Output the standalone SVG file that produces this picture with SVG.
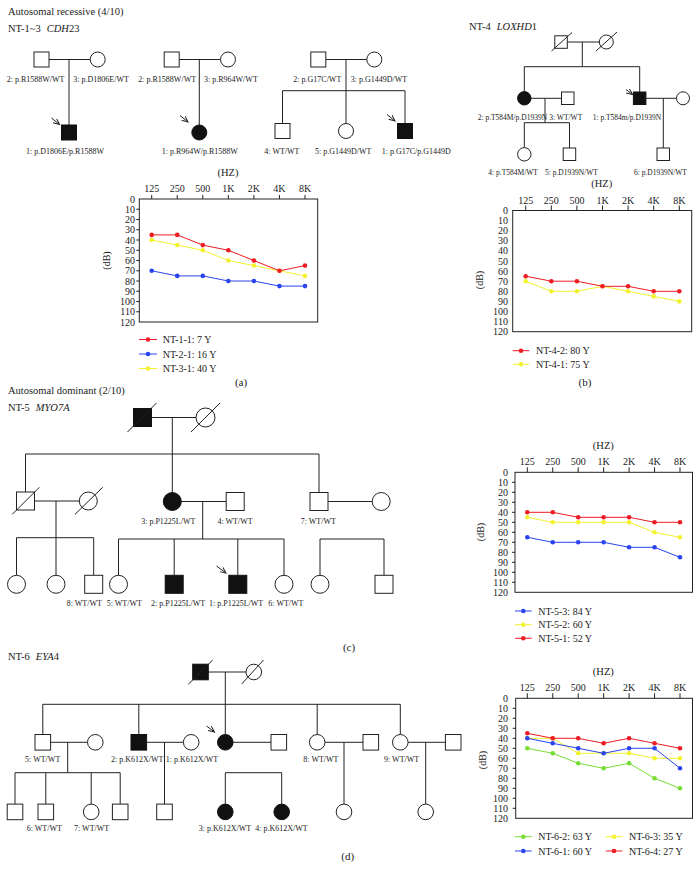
<svg xmlns="http://www.w3.org/2000/svg" width="700" height="872" viewBox="0 0 700 872">
<style>
text{font-family:"Liberation Serif","Times New Roman",serif;fill:#222}
.lb{font-size:8px}
.lb2{font-size:7.5px}
.h{font-size:10.5px}
.ax{font-size:10px}
.cap{font-size:11px}
.ln{stroke:#222;stroke-width:1;fill:none}
.o{fill:#fff;stroke:#222;stroke-width:1}
.f{fill:#111;stroke:#111;stroke-width:1}
.box{fill:#fff;stroke:#222;stroke-width:1}
.tk{stroke:#222;stroke-width:1}
.r{stroke:#ee1c24;fill:none;stroke-width:1}
.b{stroke:#2a44ee;fill:none;stroke-width:1}
.y{stroke:#f2f230;fill:none;stroke-width:1}
.g{stroke:#77dd33;fill:none;stroke-width:1}
.rd{fill:#ee1c24}
.bd{fill:#2a44ee}
.yd{fill:#f2f230}
.gd{fill:#77dd33}
.e{text-anchor:end}
.m{text-anchor:middle}
</style>
<defs>
<marker id="arr" markerWidth="8" markerHeight="8" refX="6" refY="3" orient="auto" markerUnits="userSpaceOnUse">
<path d="M0,0.3 L6,3 L0,5.7" fill="none" stroke="#222" stroke-width="1"/>
</marker>
</defs>

<!-- Headers -->
<text class="h" x="8" y="15">Autosomal recessive (4/10)</text>
<text class="h" x="8" y="32">NT-1~3<tspan dx="6" font-style="italic">CDH</tspan>23</text>
<text class="h" x="469" y="30">NT-4<tspan dx="6" font-style="italic">LOXHD</tspan>1</text>
<text class="h" x="8" y="393.5">Autosomal dominant (2/10)</text>
<text class="h" x="8" y="410.5">NT-5<tspan dx="6" font-style="italic">MYO7A</tspan></text>
<text class="h" x="8" y="660">NT-6<tspan dx="6" font-style="italic">EYA</tspan>4</text>

<!-- connectors -->
<g id="connectors">
<path class="ln" d="M49,59.5H90.2M69,59.5V125"/>
<path class="ln" d="M179.2,59.5H220.5M199.3,59.5V125"/>
<path class="ln" d="M325.8,59.5H366.8M346,59.5V123.5M282.5,90.7H405M282.5,90.7V123.5M405,90.7V123.5"/>
<path class="ln" d="M567.3,42H599.3M582.3,42V66.7M524.3,66.7H639.7M524.3,66.7V91.6M639.7,66.7V92"/>
<path class="ln" d="M531,98.3H561.5M545,98.3V122.7M524.3,122.7H569.5M524.3,122.7V147.6M569.5,122.7V148"/>
<path class="ln" d="M646,98.3H676.5M663.3,98.3V148"/>
<path class="ln" d="M151.5,417.5H196M172.3,417.5V454M25.5,454H319M25.5,454V492M172.3,454V492.5M319,454V492.5"/>
<path class="ln" d="M34.5,501H79.3M56,501V537.7M16.5,537.7H93.7M16.5,537.7V575.3M56,537.7V575.3M93.7,537.7V575.3"/>
<path class="ln" d="M181.3,501.5H226.2M202.7,501.5V539M118.5,539H284M118.5,539V575.3M174.2,539V575.3M237.8,539V575.3M284,539V575.3"/>
<path class="ln" d="M328,501.5H372.2M320,539H384M320,539V575.3M384,539V575.3"/>
<path class="ln" d="M208.3,672H246M225.3,672V734.5M42.8,704.3H400.3M42.8,704.3V734.5M138.8,704.3V734.5M317.2,704.3V734.5M400.3,704.3V734.5"/>
<path class="ln" d="M50.6,742.3H87.5M67.7,742.3V772.7M15,772.7H120.2M15,772.7V804.1M45.8,772.7V804.1M91.2,772.7V804.1M120.2,772.7V804.1"/>
<path class="ln" d="M146.6,742.3H183.4M164.5,742.3V804.1"/>
<path class="ln" d="M233.1,742.3H271M225.3,772.7H281.7M225.3,772.7V804.1M281.7,772.7V804.1"/>
<path class="ln" d="M325,742.3H363M344,742.3V804.1M408.1,742.3H445.4M425.7,742.3V804.1"/>
<path class="ln" d="M51.5,118L59.5,124.5" marker-end="url(#arr)"/>
<path class="ln" d="M180,115.5L188,122" marker-end="url(#arr)"/>
<path class="ln" d="M387,114.5L395,121" marker-end="url(#arr)"/>
<path class="ln" d="M626,89.5L632.5,94.5" marker-end="url(#arr)"/>
<path class="ln" d="M216.5,566L226,573" marker-end="url(#arr)"/>
<path class="ln" d="M206.5,726L214.5,732" marker-end="url(#arr)"/>
</g>

<!-- NT-1 pedigree -->
<g id="nt1-2"><rect class="o" x="34" y="52" width="15" height="15"/><text class="lb" x="6.7" y="82.3">2: p.R1588W/WT</text></g>
<g id="nt1-3"><circle class="o" cx="97.7" cy="59.5" r="7.5"/><text class="lb" x="73.3" y="82.3">3: p.D1806E/WT</text></g>
<g id="nt1-1"><rect class="f" x="61.5" y="125" width="15" height="15"/><text class="lb" x="26" y="154.3">1: p.D1806E/p.R1588W</text></g>
<!-- NT-2 pedigree -->
<g id="nt2-2"><rect class="o" x="164.2" y="52" width="15" height="15"/><text class="lb" x="138.3" y="82.3">2: p.R1588W/WT</text></g>
<g id="nt2-3"><circle class="o" cx="228" cy="59.5" r="7.5"/><text class="lb" x="204" y="82.3">3: p.R964W/WT</text></g>
<g id="nt2-1"><circle class="f" cx="199.3" cy="132.5" r="7.5"/><text class="lb" x="161.7" y="154.3">1: p.R964W/p.R1588W</text></g>
<!-- NT-3 pedigree -->
<g id="nt3-2"><rect class="o" x="310.8" y="52" width="15" height="15"/><text class="lb" x="293.3" y="82.3">2: p.G17C/WT</text></g>
<g id="nt3-3"><circle class="o" cx="374.3" cy="59.5" r="7.5"/><text class="lb" x="350.7" y="82.3">3: p.G1449D/WT</text></g>
<g id="nt3-4"><rect class="o" x="275" y="123.5" width="15" height="15"/><text class="lb" x="264.3" y="154.3">4: WT/WT</text></g>
<g id="nt3-5"><circle class="o" cx="346" cy="131" r="7.5"/><text class="lb" x="315" y="154.3">5: p.G1449D/WT</text></g>
<g id="nt3-1"><rect class="f" x="397.5" y="123.5" width="15" height="15"/><text class="lb" x="381.7" y="154.3">1: p.G17C/p.G1449D</text></g>

<!-- NT-4 pedigree -->
<g id="nt4-gf"><rect class="o" x="554.8" y="35.8" width="12.5" height="12.5"/><path class="ln" d="M551.5,51L572,32.5"/></g>
<g id="nt4-gm"><circle class="o" cx="606.3" cy="42" r="7"/><path class="ln" d="M596,51L617,32"/></g>
<g id="nt4-2"><circle class="f" cx="524.3" cy="98.3" r="6.7"/><text class="lb2" x="477.7" y="119.5">2: p.T584M/p.D1939N</text></g>
<g id="nt4-3"><rect class="o" x="561.5" y="92" width="12.5" height="12.5"/><text class="lb2" x="549.3" y="119.5">3: WT/WT</text></g>
<g id="nt4-1"><rect class="f" x="633.4" y="92" width="12.5" height="12.5"/><text class="lb2" x="592.7" y="119.5">1: p.T584m/p.D1939N</text></g>
<g id="nt4-sp"><circle class="o" cx="683" cy="98.3" r="6.5"/></g>
<g id="nt4-4"><circle class="o" cx="524.3" cy="154.3" r="6.7"/><text class="lb2" x="488.3" y="174.5">4: p.T584M/WT</text></g>
<g id="nt4-5"><rect class="o" x="563.2" y="148" width="12.5" height="12.5"/><text class="lb2" x="545" y="174.5">5: p.D1939N/WT</text></g>
<g id="nt4-6"><rect class="o" x="657" y="148" width="12.5" height="12.5"/><text class="lb2" x="634" y="174.5">6: p.D1939N/WT</text></g>

<!-- Chart (a) -->
<g id="chart-a">
<text class="h m" x="228" y="175.5">(HZ)</text>
<g class="ax m">
<text x="151.7" y="192">125</text><text x="177.25" y="192">250</text><text x="202.8" y="192">500</text><text x="228.35" y="192">1K</text><text x="253.9" y="192">2K</text><text x="279.45" y="192">4K</text><text x="305" y="192">8K</text>
</g>
<rect class="box" x="139.3" y="199" width="178.4" height="123"/>
<path class="tk" d="M151.7,195V199M177.25,195V199M202.8,195V199M228.35,195V199M253.9,195V199M279.45,195V199M305,195V199"/>
<path class="tk" d="M136.3,209.25H139.3M136.3,219.5H139.3M136.3,229.75H139.3M136.3,240H139.3M136.3,250.25H139.3M136.3,260.5H139.3M136.3,270.75H139.3M136.3,281H139.3M136.3,291.25H139.3M136.3,301.5H139.3M136.3,311.75H139.3"/>
<g class="ax e">
<text x="135" y="202.5">0</text><text x="135" y="212.75">10</text><text x="135" y="223">20</text><text x="135" y="233.25">30</text><text x="135" y="243.5">40</text><text x="135" y="253.75">50</text><text x="135" y="264">60</text><text x="135" y="274.25">70</text><text x="135" y="284.5">80</text><text x="135" y="294.75">90</text><text x="135" y="305">100</text><text x="135" y="315.25">110</text><text x="135" y="325.5">120</text>
</g>
<text class="ax m" transform="translate(109.5,260.5) rotate(-90)">(dB)</text>
<polyline class="b" points="151.7,270.8 177.25,275.9 202.8,275.9 228.35,281 253.9,281 279.45,286.1 305,286.1"/>
<g class="bd"><circle cx="151.7" cy="270.8" r="2.3"/><circle cx="177.25" cy="275.9" r="2.3"/><circle cx="202.8" cy="275.9" r="2.3"/><circle cx="228.35" cy="281" r="2.3"/><circle cx="253.9" cy="281" r="2.3"/><circle cx="279.45" cy="286.1" r="2.3"/><circle cx="305" cy="286.1" r="2.3"/></g>
<polyline class="y" points="151.7,240 177.25,245.1 202.8,250.3 228.35,260.5 253.9,265.6 279.45,270.8 305,275.9"/>
<g class="yd"><circle cx="151.7" cy="240" r="2.3"/><circle cx="177.25" cy="245.1" r="2.3"/><circle cx="202.8" cy="250.3" r="2.3"/><circle cx="228.35" cy="260.5" r="2.3"/><circle cx="253.9" cy="265.6" r="2.3"/><circle cx="279.45" cy="270.8" r="2.3"/><circle cx="305" cy="275.9" r="2.3"/></g>
<polyline class="r" points="151.7,234.9 177.25,234.9 202.8,245.1 228.35,250.3 253.9,260.5 279.45,270.8 305,265.6"/>
<g class="rd"><circle cx="151.7" cy="234.9" r="2.3"/><circle cx="177.25" cy="234.9" r="2.3"/><circle cx="202.8" cy="245.1" r="2.3"/><circle cx="228.35" cy="250.3" r="2.3"/><circle cx="253.9" cy="260.5" r="2.3"/><circle cx="279.45" cy="270.8" r="2.3"/><circle cx="305" cy="265.6" r="2.3"/></g>
<path class="r" d="M139,339.5H157"/><circle class="rd" cx="148" cy="339.5" r="2.3"/><text class="ax" x="162.7" y="343">NT-1-1: 7 Y</text>
<path class="b" d="M139,354H157"/><circle class="bd" cx="148" cy="354" r="2.3"/><text class="ax" x="162.7" y="357.5">NT-2-1: 16 Y</text>
<path class="y" d="M139,368.5H157"/><circle class="yd" cx="148" cy="368.5" r="2.3"/><text class="ax" x="162.7" y="372">NT-3-1: 40 Y</text>
<text class="cap m" x="241" y="385.5">(a)</text>
</g>

<!-- Chart (b) -->
<g id="chart-b">
<text class="h m" x="601.7" y="186.5">(HZ)</text>
<g class="ax m">
<text x="525.7" y="203.5">125</text><text x="551.3" y="203.5">250</text><text x="576.9" y="203.5">500</text><text x="602.5" y="203.5">1K</text><text x="628.1" y="203.5">2K</text><text x="653.7" y="203.5">4K</text><text x="679.3" y="203.5">8K</text>
</g>
<rect class="box" x="512.7" y="210.5" width="179" height="121.2"/>
<path class="tk" d="M525.7,205.5V210.5M551.3,205.5V210.5M576.9,205.5V210.5M602.5,205.5V210.5M628.1,205.5V210.5M653.7,205.5V210.5M679.3,205.5V210.5"/>
<g class="ax e">
<text x="508" y="214">0</text><text x="508" y="224.1">10</text><text x="508" y="234.2">20</text><text x="508" y="244.3">30</text><text x="508" y="254.4">40</text><text x="508" y="264.5">50</text><text x="508" y="274.6">60</text><text x="508" y="284.7">70</text><text x="508" y="294.8">80</text><text x="508" y="304.9">90</text><text x="508" y="315">100</text><text x="508" y="325.1">110</text><text x="508" y="335.2">120</text>
</g>
<text class="ax m" transform="translate(482.5,280) rotate(-90)">(dB)</text>
<polyline class="y" points="525.7,281.2 551.3,291.3 576.9,291.3 602.5,286.3 628.1,291.3 653.7,296.4 679.3,301.4"/>
<g class="yd"><circle cx="525.7" cy="281.2" r="2.3"/><circle cx="551.3" cy="291.3" r="2.3"/><circle cx="576.9" cy="291.3" r="2.3"/><circle cx="602.5" cy="286.3" r="2.3"/><circle cx="628.1" cy="291.3" r="2.3"/><circle cx="653.7" cy="296.4" r="2.3"/><circle cx="679.3" cy="301.4" r="2.3"/></g>
<polyline class="r" points="525.7,276.2 551.3,281.2 576.9,281.2 602.5,286.3 628.1,286.3 653.7,291.3 679.3,291.3"/>
<g class="rd"><circle cx="525.7" cy="276.2" r="2.3"/><circle cx="551.3" cy="281.2" r="2.3"/><circle cx="576.9" cy="281.2" r="2.3"/><circle cx="602.5" cy="286.3" r="2.3"/><circle cx="628.1" cy="286.3" r="2.3"/><circle cx="653.7" cy="291.3" r="2.3"/><circle cx="679.3" cy="291.3" r="2.3"/></g>
<path class="r" d="M512.7,350.7H529.3"/><circle class="rd" cx="521" cy="350.7" r="2.3"/><text class="ax" x="536" y="354.2">NT-4-2: 80 Y</text>
<path class="y" d="M512.7,364.3H529.3"/><circle class="yd" cx="521" cy="364.3" r="2.3"/><text class="ax" x="536" y="367.8">NT-4-1: 75 Y</text>
<text class="cap m" x="585" y="385.5">(b)</text>
</g>

<!-- NT-5 pedigree -->
<g id="nt5-gf"><rect class="f" x="133.5" y="408.5" width="18" height="18"/><path class="ln" d="M127.5,432L156.5,403"/></g>
<g id="nt5-gm"><circle class="o" cx="205.5" cy="417.5" r="9.5"/><path class="ln" d="M191,432L220,403"/></g>
<g id="nt5-a"><rect class="o" x="16.5" y="492" width="18" height="18"/><path class="ln" d="M12.3,514.3L39.3,487.3"/></g>
<g id="nt5-b"><circle class="o" cx="88.3" cy="501" r="9"/><path class="ln" d="M75,514.3L102.7,487.3"/></g>
<g id="nt5-3"><circle class="f" cx="172.3" cy="501.5" r="9"/><text class="lb m" x="168.3" y="523.8">3: p.P1225L/WT</text></g>
<g id="nt5-4"><rect class="o" x="226.2" y="492.5" width="18" height="18"/><text class="lb m" x="235" y="523.8">4: WT/WT</text></g>
<g id="nt5-7"><rect class="o" x="310" y="492.5" width="18" height="18"/><text class="lb m" x="318.3" y="523.8">7: WT/WT</text></g>
<g id="nt5-7sp"><circle class="o" cx="381.2" cy="501.5" r="9"/></g>
<g id="nt5-c1"><circle class="o" cx="16.5" cy="584.3" r="9"/></g>
<g id="nt5-c2"><circle class="o" cx="56" cy="584.3" r="9"/></g>
<g id="nt5-8"><rect class="o" x="84.7" y="575.3" width="18" height="18"/><text class="lb" x="66.7" y="605.5">8: WT/WT</text></g>
<g id="nt5-5"><circle class="o" cx="118.5" cy="584.3" r="9"/><text class="lb" x="106.7" y="605.5">5: WT/WT</text></g>
<g id="nt5-2"><rect class="f" x="165.2" y="575.3" width="18" height="18"/><text class="lb" x="151" y="605.5">2: p.P1225L/WT</text></g>
<g id="nt5-1"><rect class="f" x="228.8" y="575.3" width="18" height="18"/><text class="lb" x="209" y="605.5">1: p.P1225L/WT</text></g>
<g id="nt5-6"><circle class="o" cx="284" cy="584.3" r="9"/><text class="lb" x="268.3" y="605.5">6: WT/WT</text></g>
<g id="nt5-c7"><circle class="o" cx="320" cy="584.3" r="9"/></g>
<g id="nt5-c8"><rect class="o" x="375" y="575.3" width="18" height="18"/></g>
<text class="cap m" x="349" y="650.5">(c)</text>

<!-- Chart (c) -->
<g id="chart-c">
<text class="h m" x="603.3" y="448.5">(HZ)</text>
<g class="ax m">
<text x="527.3" y="465">125</text><text x="552.75" y="465">250</text><text x="578.2" y="465">500</text><text x="603.65" y="465">1K</text><text x="629.1" y="465">2K</text><text x="654.55" y="465">4K</text><text x="680" y="465">8K</text>
</g>
<rect class="box" x="515" y="472.3" width="177.5" height="120"/>
<path class="tk" d="M527.3,467.3V472.3M552.75,467.3V472.3M578.2,467.3V472.3M603.65,467.3V472.3M629.1,467.3V472.3M654.55,467.3V472.3M680,467.3V472.3"/>
<path class="tk" d="M512,482.3H515M512,492.3H515M512,502.3H515M512,512.3H515M512,522.3H515M512,532.3H515M512,542.3H515M512,552.3H515M512,562.3H515M512,572.3H515M512,582.3H515"/>
<g class="ax e">
<text x="508" y="475.8">0</text><text x="508" y="485.8">10</text><text x="508" y="495.8">20</text><text x="508" y="505.8">30</text><text x="508" y="515.8">40</text><text x="508" y="525.8">50</text><text x="508" y="535.8">60</text><text x="508" y="545.8">70</text><text x="508" y="555.8">80</text><text x="508" y="565.8">90</text><text x="508" y="575.8">100</text><text x="508" y="585.8">110</text><text x="508" y="595.8">120</text>
</g>
<text class="ax m" transform="translate(483.5,532) rotate(-90)">(dB)</text>
<polyline class="b" points="527.3,537.3 552.75,542.3 578.2,542.3 603.65,542.3 629.1,547.3 654.55,547.3 680,557.3"/>
<g class="bd"><circle cx="527.3" cy="537.3" r="2.3"/><circle cx="552.75" cy="542.3" r="2.3"/><circle cx="578.2" cy="542.3" r="2.3"/><circle cx="603.65" cy="542.3" r="2.3"/><circle cx="629.1" cy="547.3" r="2.3"/><circle cx="654.55" cy="547.3" r="2.3"/><circle cx="680" cy="557.3" r="2.3"/></g>
<polyline class="y" points="527.3,517.3 552.75,522.3 578.2,522.3 603.65,522.3 629.1,522.3 654.55,532.3 680,537.3"/>
<g class="yd"><circle cx="527.3" cy="517.3" r="2.3"/><circle cx="552.75" cy="522.3" r="2.3"/><circle cx="578.2" cy="522.3" r="2.3"/><circle cx="603.65" cy="522.3" r="2.3"/><circle cx="629.1" cy="522.3" r="2.3"/><circle cx="654.55" cy="532.3" r="2.3"/><circle cx="680" cy="537.3" r="2.3"/></g>
<polyline class="r" points="527.3,512.3 552.75,512.3 578.2,517.3 603.65,517.3 629.1,517.3 654.55,522.3 680,522.3"/>
<g class="rd"><circle cx="527.3" cy="512.3" r="2.3"/><circle cx="552.75" cy="512.3" r="2.3"/><circle cx="578.2" cy="517.3" r="2.3"/><circle cx="603.65" cy="517.3" r="2.3"/><circle cx="629.1" cy="517.3" r="2.3"/><circle cx="654.55" cy="522.3" r="2.3"/><circle cx="680" cy="522.3" r="2.3"/></g>
<path class="b" d="M515,611H531.7"/><circle class="bd" cx="523.3" cy="611" r="2.3"/><text class="ax" x="538.3" y="614.5">NT-5-3: 84 Y</text>
<path class="y" d="M515,624.7H531.7"/><circle class="yd" cx="523.3" cy="624.7" r="2.3"/><text class="ax" x="538.3" y="628.2">NT-5-2: 60 Y</text>
<path class="r" d="M515,638.3H531.7"/><circle class="rd" cx="523.3" cy="638.3" r="2.3"/><text class="ax" x="538.3" y="641.8">NT-5-1: 52 Y</text>
</g>

<!-- NT-6 pedigree -->
<g id="nt6-gf"><rect class="f" x="192.7" y="664.2" width="15.6" height="15.6"/><path class="ln" d="M188.3,684.3L212.7,660"/></g>
<g id="nt6-gm"><circle class="o" cx="253.8" cy="672" r="7.8"/><path class="ln" d="M241.7,684L263.5,660"/></g>
<g id="nt6-5"><rect class="o" x="35" y="734.5" width="15.6" height="15.6"/><text class="lb m" x="42.7" y="762">5: WT/WT</text></g>
<g id="nt6-5sp"><circle class="o" cx="95.3" cy="742.3" r="7.8"/></g>
<g id="nt6-2"><rect class="f" x="131" y="734.5" width="15.6" height="15.6"/><text class="lb" x="111" y="762">2: p.K612X/WT</text></g>
<g id="nt6-1"><circle class="o" cx="191.2" cy="742.3" r="7.8"/><text class="lb" x="165.7" y="762">1: p.K612X/WT</text></g>
<g id="nt6-p"><circle class="f" cx="225.3" cy="742.3" r="7.8"/></g>
<g id="nt6-psp"><rect class="o" x="271" y="734.5" width="15.6" height="15.6"/></g>
<g id="nt6-8"><circle class="o" cx="317.2" cy="742.3" r="7.8"/><text class="lb" x="303.3" y="762">8: WT/WT</text></g>
<g id="nt6-8sp"><rect class="o" x="363" y="734.5" width="15.6" height="15.6"/></g>
<g id="nt6-9"><circle class="o" cx="400.3" cy="742.3" r="7.8"/><text class="lb" x="384" y="762">9: WT/WT</text></g>
<g id="nt6-9sp"><rect class="o" x="445.4" y="734.5" width="15.6" height="15.6"/></g>
<g id="nt6-c1"><rect class="o" x="7.2" y="804.1" width="15.6" height="15.6"/></g>
<g id="nt6-6"><rect class="o" x="38" y="804.1" width="15.6" height="15.6"/><text class="lb" x="26.7" y="831">6: WT/WT</text></g>
<g id="nt6-7"><circle class="o" cx="91.2" cy="811.9" r="7.8"/><text class="lb" x="74" y="831">7: WT/WT</text></g>
<g id="nt6-c4"><rect class="o" x="112.4" y="804.1" width="15.6" height="15.6"/></g>
<g id="nt6-c5"><rect class="o" x="156.7" y="804.1" width="15.6" height="15.6"/></g>
<g id="nt6-3"><circle class="f" cx="225.3" cy="811.9" r="7.8"/><text class="lb m" x="225" y="831">3: p.K612X/WT</text></g>
<g id="nt6-4"><circle class="f" cx="281.7" cy="811.9" r="7.8"/><text class="lb m" x="281.5" y="831">4: p.K612X/WT</text></g>
<g id="nt6-c8"><circle class="o" cx="344" cy="811.9" r="7.8"/></g>
<g id="nt6-c9"><circle class="o" cx="425.7" cy="811.9" r="7.8"/></g>
<text class="cap m" x="347.7" y="860">(d)</text>

<!-- Chart (d) -->
<g id="chart-d">
<text class="h m" x="603.3" y="674.5">(HZ)</text>
<g class="ax m">
<text x="527.3" y="691">125</text><text x="552.75" y="691">250</text><text x="578.2" y="691">500</text><text x="603.65" y="691">1K</text><text x="629.1" y="691">2K</text><text x="654.55" y="691">4K</text><text x="680" y="691">8K</text>
</g>
<rect class="box" x="515.7" y="698.3" width="176.8" height="120"/>
<path class="tk" d="M527.3,693.3V698.3M552.75,693.3V698.3M578.2,693.3V698.3M603.65,693.3V698.3M629.1,693.3V698.3M654.55,693.3V698.3M680,693.3V698.3"/>
<path class="tk" d="M512.7,708.3H515.7M512.7,718.3H515.7M512.7,728.3H515.7M512.7,738.3H515.7M512.7,748.3H515.7M512.7,758.3H515.7M512.7,768.3H515.7M512.7,778.3H515.7M512.7,788.3H515.7M512.7,798.3H515.7M512.7,808.3H515.7"/>
<g class="ax e">
<text x="508" y="701.8">0</text><text x="508" y="711.8">10</text><text x="508" y="721.8">20</text><text x="508" y="731.8">30</text><text x="508" y="741.8">40</text><text x="508" y="751.8">50</text><text x="508" y="761.8">60</text><text x="508" y="771.8">70</text><text x="508" y="781.8">80</text><text x="508" y="791.8">90</text><text x="508" y="801.8">100</text><text x="508" y="811.8">110</text><text x="508" y="821.8">120</text>
</g>
<text class="ax m" transform="translate(485.5,760) rotate(-90)">(dB)</text>
<polyline class="g" points="527.3,748.3 552.75,753.3 578.2,763.3 603.65,768.3 629.1,763.3 654.55,778.3 680,788.3"/>
<g class="gd"><circle cx="527.3" cy="748.3" r="2.3"/><circle cx="552.75" cy="753.3" r="2.3"/><circle cx="578.2" cy="763.3" r="2.3"/><circle cx="603.65" cy="768.3" r="2.3"/><circle cx="629.1" cy="763.3" r="2.3"/><circle cx="654.55" cy="778.3" r="2.3"/><circle cx="680" cy="788.3" r="2.3"/></g>
<polyline class="y" points="527.3,738.3 552.75,738.3 578.2,753.3 603.65,753.3 629.1,753.3 654.55,758.3 680,758.3"/>
<g class="yd"><circle cx="527.3" cy="738.3" r="2.3"/><circle cx="552.75" cy="738.3" r="2.3"/><circle cx="578.2" cy="753.3" r="2.3"/><circle cx="603.65" cy="753.3" r="2.3"/><circle cx="629.1" cy="753.3" r="2.3"/><circle cx="654.55" cy="758.3" r="2.3"/><circle cx="680" cy="758.3" r="2.3"/></g>
<polyline class="b" points="527.3,738.3 552.75,743.3 578.2,748.3 603.65,753.3 629.1,748.3 654.55,748.3 680,768.3"/>
<g class="bd"><circle cx="527.3" cy="738.3" r="2.3"/><circle cx="552.75" cy="743.3" r="2.3"/><circle cx="578.2" cy="748.3" r="2.3"/><circle cx="603.65" cy="753.3" r="2.3"/><circle cx="629.1" cy="748.3" r="2.3"/><circle cx="654.55" cy="748.3" r="2.3"/><circle cx="680" cy="768.3" r="2.3"/></g>
<polyline class="r" points="527.3,733.3 552.75,738.3 578.2,738.3 603.65,743.3 629.1,738.3 654.55,743.3 680,748.3"/>
<g class="rd"><circle cx="527.3" cy="733.3" r="2.3"/><circle cx="552.75" cy="738.3" r="2.3"/><circle cx="578.2" cy="738.3" r="2.3"/><circle cx="603.65" cy="743.3" r="2.3"/><circle cx="629.1" cy="738.3" r="2.3"/><circle cx="654.55" cy="743.3" r="2.3"/><circle cx="680" cy="748.3" r="2.3"/></g>
<path class="g" d="M515,836.7H531.7"/><circle class="gd" cx="523.3" cy="836.7" r="2.3"/><text class="ax" x="538.3" y="840.2">NT-6-2: 63 Y</text>
<path class="b" d="M515,851H531.7"/><circle class="bd" cx="523.3" cy="851" r="2.3"/><text class="ax" x="538.3" y="854.5">NT-6-1: 60 Y</text>
<path class="y" d="M605.7,836.7H622.3"/><circle class="yd" cx="614" cy="836.7" r="2.3"/><text class="ax" x="629" y="840.2">NT-6-3: 35 Y</text>
<path class="r" d="M605.7,851H622.3"/><circle class="rd" cx="614" cy="851" r="2.3"/><text class="ax" x="629" y="854.5">NT-6-4: 27 Y</text>
</g>
</svg>
